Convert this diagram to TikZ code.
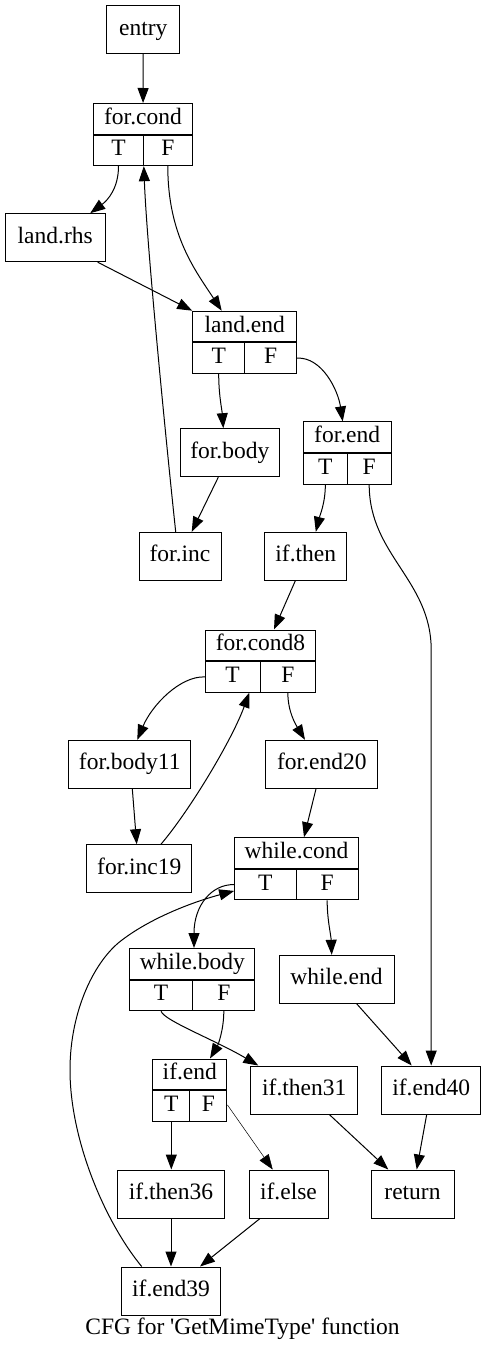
\documentclass[tikz,border=0pt]{standalone}
\usepackage{fontspec}
\setmainfont{Liberation Serif}
\usetikzlibrary{arrows.meta, positioning}

\begin{document}
\begin{tikzpicture}[x=1pt, y=-1pt,
    font=\fontsize{23.5}{28}\selectfont,
    blk/.style={draw, rectangle, line width=1pt, inner sep=0pt, minimum height=48pt, text height=16pt, text depth=5pt},
    hd/.style={blk, minimum height=30.6pt},
    cell/.style={blk, minimum height=30.6pt},
    flow/.style={line width=1pt, -{Triangle[length=15pt, width=11pt]}}]

    \fill[white] (0,0) rectangle (486,1352);
    \useasboundingbox (0,0) rectangle (486,1352);

    % blocks
    \node[blk, minimum width=73.3pt] (entry) at (143.3,29.7) {entry};

    \node[hd, minimum width=98.6pt] (forcond) at (143,118.8) {for.cond};
    \node[cell, minimum width=49.6pt, anchor=north west] (forcondT) at (forcond.south west) {T};
    \node[cell, minimum width=49pt, anchor=north east] (forcondF) at (forcond.south east) {F};

    \node[blk, minimum width=100.3pt] (landrhs) at (55.2,237.7) {land.rhs};

    \node[hd, minimum width=104pt] (landend) at (244.7,326.5) {land.end};
    \node[cell, minimum width=52pt, anchor=north west] (landendT) at (landend.south west) {T};
    \node[cell, minimum width=52pt, anchor=north east] (landendF) at (landend.south east) {F};

    \node[blk, minimum width=99pt] (forbody) at (229.8,452.7) {for.body};

    \node[hd, minimum width=87.7pt] (forend) at (347.2,437.2) {for.end};
    \node[cell, minimum width=44pt, anchor=north west] (forendT) at (forend.south west) {T};
    \node[cell, minimum width=43.7pt, anchor=north east] (forendF) at (forend.south east) {F};

    \node[blk, minimum width=82pt] (forinc) at (180,556.3) {for.inc};
    \node[blk, minimum width=82.3pt] (ifthen) at (305.8,556.3) {if.then};

    \node[hd, minimum width=110.4pt] (forcond8) at (260.5,645.3) {for.cond8};
    \node[cell, minimum width=54.7pt, anchor=north west] (forcond8T) at (forcond8.south west) {T};
    \node[cell, minimum width=55.7pt, anchor=north east] (forcond8F) at (forcond8.south east) {F};

    \node[blk, minimum width=122.3pt] (forbody11) at (129.8,764.3) {for.body11};
    \node[blk, minimum width=111.7pt] (forend20) at (321.8,764.3) {for.end20};
    \node[blk, minimum width=105.3pt] (forinc19) at (139.3,868.7) {for.inc19};

    \node[hd, minimum width=123.6pt] (whilecond) at (296.5,853) {while.cond};
    \node[cell, minimum width=61.3pt, anchor=north west] (whilecondT) at (whilecond.south west) {T};
    \node[cell, minimum width=62.3pt, anchor=north east] (whilecondF) at (whilecond.south east) {F};

    \node[hd, minimum width=125.3pt] (whilebody) at (192.3,963.8) {while.body};
    \node[cell, minimum width=63pt, anchor=north west] (whilebodyT) at (whilebody.south west) {T};
    \node[cell, minimum width=62.3pt, anchor=north east] (whilebodyF) at (whilebody.south east) {F};

    \node[blk, minimum width=115pt] (whileend) at (336.5,979.3) {while.end};

    \node[hd, minimum width=74.3pt] (ifend) at (189.8,1074.3) {if.end};
    \node[cell, minimum width=37.3pt, anchor=north west] (ifendT) at (ifend.south west) {T};
    \node[cell, minimum width=37pt, anchor=north east] (ifendF) at (ifend.south east) {F};

    \node[blk, minimum width=106.7pt] (ifthen31) at (304.3,1090) {if.then31};
    \node[blk, minimum width=99pt] (ifend40) at (431.2,1090) {if.end40};
    \node[blk, minimum width=106.6pt] (ifthen36) at (171,1194) {if.then36};
    \node[blk, minimum width=79pt] (ifelse) at (288.5,1194) {if.else};
    \node[blk, minimum width=83pt] (return) at (412.5,1194) {return};
    \node[blk, minimum width=98.6pt] (ifend39) at (171,1291) {if.end39};

    \node[inner sep=0pt, text height=16pt, text depth=5pt] (title) at (242.5,1329) {CFG for \textquotesingle GetMimeType\textquotesingle\ function};

    % edges
    \draw[flow] (entry) -- (forcond);
    \draw[flow] (forcondT.south) .. controls (118.5,188) and (108,200) .. ([xshift=35pt]landrhs.north);
    \draw[flow] (forcondF.south) .. controls (167.8,235) and (195,270) .. ([xshift=-23pt]landend.north);
    \draw[flow] ([xshift=42.5pt]landrhs.south) -- (landend.north west);
    \draw[flow] ([xshift=-4.3pt]forinc.north) .. controls (168,460) and (147,250) .. (forcondT.south east);
    \draw[flow] (landendT.south) .. controls (218.7,395) and (222,410) .. ([xshift=-6.5pt]forbody.north);
    \draw[flow] (landendF.east) .. controls (322,357) and (338,390) .. ([xshift=-4.5pt]forend.north);
    \draw[flow] ([xshift=-11.5pt]forbody.south) -- ([xshift=11.7pt]forinc.north);
    \draw[flow] (forendT.south) .. controls (325.3,503) and (320,515) .. ([xshift=10pt]ifthen.north);
    \draw[flow] (forendF.south) .. controls (369.2,555) and (ifend40.north |- 0,580) .. (ifend40.north |- 0,650) -- (ifend40.north);
    \draw[flow] ([xshift=-10.5pt]ifthen.south) -- ([xshift=13.5pt]forcond8.north);
    \draw[flow] (forcond8T.west) .. controls (180,676) and (152,705) .. ([xshift=7.5pt]forbody11.north);
    \draw[flow] (forcond8F.south) .. controls (287.8,712) and (296,725) .. ([xshift=-16.8pt]forend20.north);
    \draw[flow] ([xshift=2.5pt]forbody11.south) -- ([xshift=-2.6pt]forinc19.north);
    \draw[flow] ([xshift=21.7pt]forinc19.north) .. controls (190,810) and (232,740) .. ([xshift=16.6pt]forcond8T.south);
    \draw[flow] ([xshift=-5.8pt]forend20.south) -- ([xshift=7.5pt]whilecond.north);
    \draw[flow] (whilecondT.west) .. controls (212,884) and (194,905) .. ([xshift=1.7pt]whilebody.north);
    \draw[flow] (whilecondF.south) .. controls (327.2,920) and (331,935) .. ([xshift=-4.8pt]whileend.north);
    \draw[flow] ([xshift=20.2pt]whileend.south) -- ([xshift=-19.5pt]ifend40.north);
    \draw[flow] (whilebodyT.south) .. controls (163,1020) and (215,1040) .. ([xshift=-46pt]ifthen31.north);
    \draw[flow] (whilebodyF.south) .. controls (223.8,1030) and (218,1045) .. ([xshift=20.2pt]ifend.north);
    \draw[flow] (ifendT.south) -- (ifthen36.north -| ifendT.south);
    \draw[flow, line width=0.5pt] ([yshift=1pt]ifendF.east) -- ([xshift=-15.8pt]ifelse.north);
    \draw[flow] ([xshift=25pt]ifthen31.south) -- ([xshift=-24.2pt]return.north);
    \draw[flow] ([xshift=-4.5pt]ifend40.south) -- ([xshift=4.2pt]return.north);
    \draw[flow] (ifthen36) -- (ifend39);
    \draw[flow] ([xshift=-28.5pt]ifelse.south) -- ([xshift=29pt]ifend39.north);
    \draw[flow] ([xshift=-29.3pt]ifend39.north) .. controls (105,1222) and (70,1140) .. (70,1070)
        .. controls (70,1010) and (95,960) .. (122,940)
        .. controls (155,915) and (200,900) .. ([yshift=-6.3pt]whilecondT.west);
\end{tikzpicture}
\end{document}
